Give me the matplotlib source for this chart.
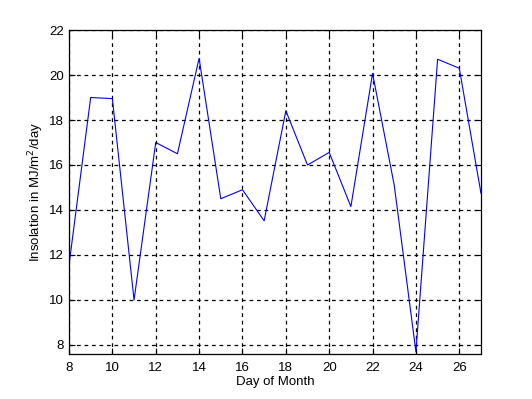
import numpy as np
import matplotlib.pyplot as plt

plt.rcParams['font.family'] = ['Liberation Sans', 'DejaVu Sans']

# daily insolation readings
days = np.arange(8, 28)
insolation = [11.55, 19.0, 18.95, 10.0, 17.0, 16.5, 20.74, 14.5, 14.9, 13.52,
              18.41, 16.0, 16.56, 14.15, 20.07, 15.1, 7.7, 20.7, 20.3, 14.74]
xticks = np.arange(8, 27, 2)
yticks = np.arange(8, 23, 2)

fig = plt.figure(figsize=(5.32, 3.99), dpi=100)
ax = fig.add_axes([0.1297, 0.1128, 0.7744, 0.812])
ax.plot(days, insolation, color='blue', linewidth=0.8)
ax.set_xlim(8, 27)
ax.set_ylim(7.6, 22)
ax.set_xticks(xticks)
ax.set_yticks(yticks)
ax.grid(True, color='black', linestyle=(0, (3, 3)), linewidth=0.9)
ax.tick_params(direction='in', labelsize=9.5, length=4, top=True, right=True)
ax.tick_params(axis='x', pad=6)
for s in ax.spines.values():
    s.set_linewidth(0.9)
ax.set_xlabel('Day of Month', fontsize=9.5, labelpad=1)
ax.set_ylabel('Insolation in MJ/m$^2$/day', fontsize=9.5, labelpad=2)

plt.savefig('out.png', dpi=100)
